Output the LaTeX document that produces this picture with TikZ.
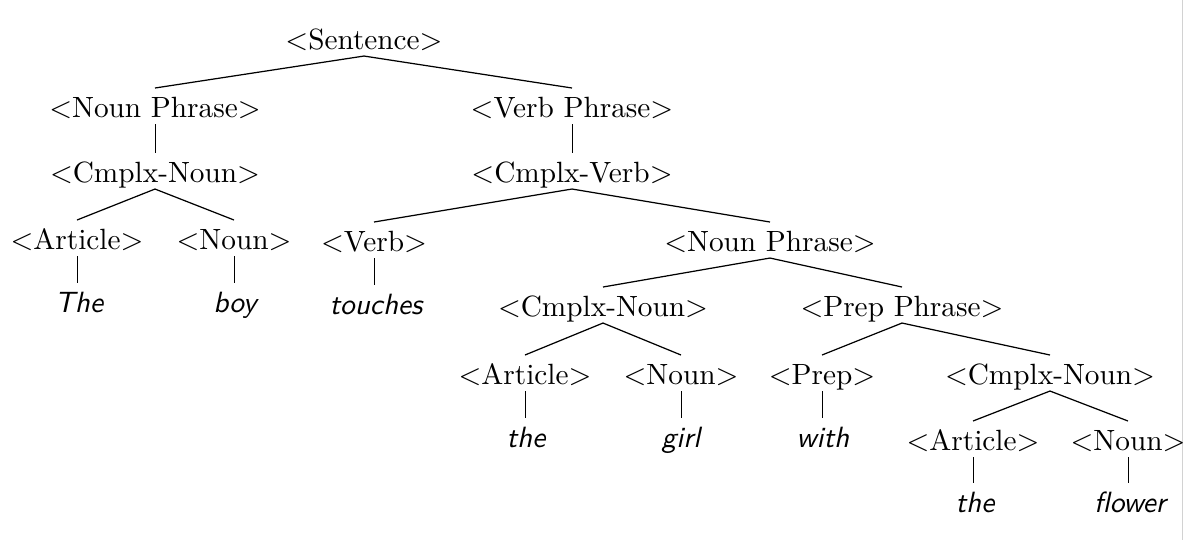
\documentclass[tikz,border=0pt]{standalone}
\begin{document}
\begin{tikzpicture}[x=0.3414pt,y=-0.3414pt,
  nt/.style={anchor=base, inner xsep=0pt, inner ysep=2.2pt, text height=7.5pt, text depth=0pt},
  word/.style={nt, font=\sffamily\itshape},
  edge/.style={line width=0.42pt},
  stem/.style={line width=0.32pt}]
\useasboundingbox (0,0) rectangle (1184,540);
\draw[gray!35, line width=0.6pt] (1182.5,0) -- (1182.5,540);

% nonterminals
\node[nt] (s)   at (364,49)  {$<$Sentence$>$};
\node[nt] (np)  at (155,117) {$<$Noun Phrase$>$};
\node[nt] (vp)  at (572,117) {$<$Verb Phrase$>$};
\node[nt] (cn)  at (155,182) {$<$Cmplx-Noun$>$};
\node[nt] (cv)  at (572,182) {$<$Cmplx-Verb$>$};
\node[nt] (a1)  at (77,249)  {$<$Article$>$};
\node[nt] (n1)  at (234,249) {$<$Noun$>$};
\node[nt] (v)   at (374,251) {$<$Verb$>$};
\node[nt] (np2) at (770,251) {$<$Noun Phrase$>$};
\node[nt] (cn2) at (603,316) {$<$Cmplx-Noun$>$};
\node[nt] (pp)  at (902,316) {$<$Prep Phrase$>$};
\node[nt] (a2)  at (525,384) {$<$Article$>$};
\node[nt] (n2)  at (681,384) {$<$Noun$>$};
\node[nt] (p)   at (822,384) {$<$Prep$>$};
\node[nt] (cn3) at (1050,384) {$<$Cmplx-Noun$>$};
\node[nt] (a3)  at (973,450) {$<$Article$>$};
\node[nt] (n3)  at (1128,450) {$<$Noun$>$};

% words
\node[word] (w1) at (79,312)   {The};
\node[word] (w2) at (235,312)  {boy};
\node[word] (w3) at (376,314)  {touches};
\node[word] (w4) at (526,447)  {the};
\node[word] (w5) at (681,447)  {girl};
\node[word] (w6) at (823,447)  {with};
\node[word] (w7) at (975,512)  {the};
\node[word] (w8) at (1130,512) {flower};

% branches
\draw[edge] (s.south) -- (np.north);
\draw[edge] (s.south) -- (vp.north);
\draw[stem] (np.south) -- (np.south |- cn.north);
\draw[stem] (vp.south) -- (vp.south |- cv.north);
\draw[edge] (cn.south) -- (a1.north);
\draw[edge] (cn.south) -- (n1.north);
\draw[edge] (cv.south) -- (v.north);
\draw[edge] (cv.south) -- (np2.north);
\draw[edge] (np2.south) -- (cn2.north);
\draw[edge] (np2.south) -- (pp.north);
\draw[edge] (cn2.south) -- (a2.north);
\draw[edge] (cn2.south) -- (n2.north);
\draw[edge] (pp.south) -- (p.north);
\draw[edge] (pp.south) -- (cn3.north);
\draw[edge] (cn3.south) -- (a3.north);
\draw[edge] (cn3.south) -- (n3.north);
\draw[stem] (a1.south) -- (a1.south |- w1.north);
\draw[stem] (n1.south) -- (n1.south |- w2.north);
\draw[stem] (v.south)  -- (v.south  |- w3.north);
\draw[stem] (a2.south) -- (a2.south |- w4.north);
\draw[stem] (n2.south) -- (n2.south |- w5.north);
\draw[stem] (p.south)  -- (p.south  |- w6.north);
\draw[stem] (a3.south) -- (a3.south |- w7.north);
\draw[stem] (n3.south) -- (n3.south |- w8.north);
\end{tikzpicture}
\end{document}
